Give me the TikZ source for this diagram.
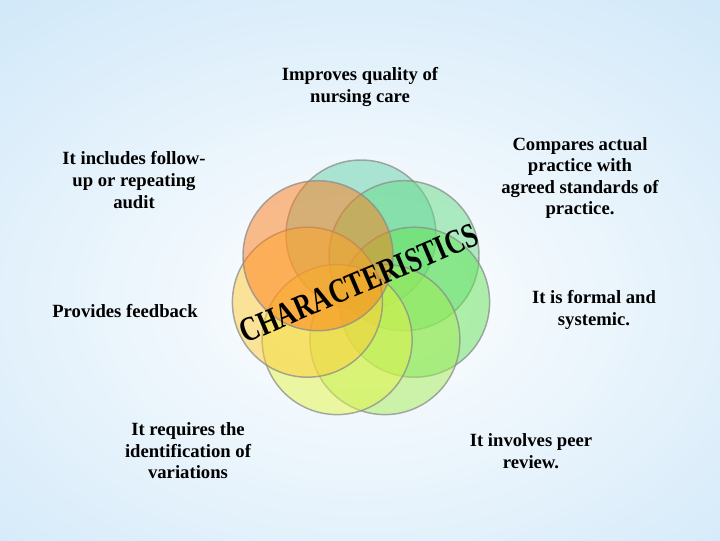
\documentclass[tikz,border=0pt]{standalone}
\usepackage{fontspec}
\setmainfont{Liberation Serif}
\usetikzlibrary{fadings}
\definecolor{bgblue}{HTML}{C4E2F7}
\definecolor{cTop}{HTML}{64D0A9}
\definecolor{cUR}{HTML}{64DC85}
\definecolor{cR}{HTML}{64E455}
\definecolor{cBR}{HTML}{A4EC55}
\definecolor{cBL}{HTML}{E4F445}
\definecolor{cL}{HTML}{FFCC35}
\definecolor{cUL}{HTML}{FF7C19}
\tikzfading[name=hband, top color=transparent!100, middle color=transparent!45, bottom color=transparent!100]
\begin{document}
\begin{tikzpicture}[x=0.75pt,y=-0.75pt,
  lbl/.style={font=\bfseries\fontsize{14}{16.2}\selectfont, align=center, text=black, inner sep=0pt},
  ring/.style={fill opacity=0.5, draw=black!45, draw opacity=0.75, line width=1.1pt},
  titlefont/.style={font=\bfseries\fontsize{26}{28}\selectfont, text=black, inner sep=0pt}]
\useasboundingbox (0,0) rectangle (720,540);
% background
\begin{scope}
\clip (0,0) rectangle (720,540);
\fill[bgblue] (0,0) rectangle (720,540);
\shade[inner color=white, outer color=bgblue] (-360,-200) rectangle (1080,800);
\fill[white, path fading=hband] (0,355) rectangle (720,425);
\end{scope}
% circle centres
\coordinate (k1) at (361,235);
\coordinate (k2) at (404.0,255.7);
\coordinate (k3) at (414.6,302.2);
\coordinate (k4) at (384.9,339.6);
\coordinate (k5) at (337.1,339.6);
\coordinate (k6) at (307.4,302.2);
\coordinate (k7) at (318.0,255.7);
\filldraw[ring, fill=cTop] (k1) circle[radius=75];
\filldraw[ring, fill=cUR] (k2) circle[radius=75];
\filldraw[ring, fill=cR] (k3) circle[radius=75];
\filldraw[ring, fill=cBR] (k4) circle[radius=75];
\filldraw[ring, fill=cBL] (k5) circle[radius=75];
\filldraw[ring, fill=cL] (k6) circle[radius=75];
\filldraw[ring, fill=cUL] (k7) circle[radius=75];
% title
\node[titlefont, rotate=23] (title) at (359,283) {\scalebox{0.76}[1]{CHARACTERISTICS}};
% labels
\node[lbl] (t1) at (360,87) {Improves quality of\\nursing care};
\node[lbl] (t2) at (580,178) {Compares actual\\practice with\\agreed standards of\\practice.};
\node[lbl] (t3) at (594,310) {It is formal and\\systemic.};
\node[lbl] (t4) at (531,451) {It involves peer\\review.};
\node[lbl] (t5) at (188,451) {It requires the\\identification of\\variations};
\node[lbl] (t6) at (125,311) {Provides feedback};
\node[lbl] (t7) at (134,180) {It includes follow-\\up or repeating\\audit};
\end{tikzpicture}
\end{document}
